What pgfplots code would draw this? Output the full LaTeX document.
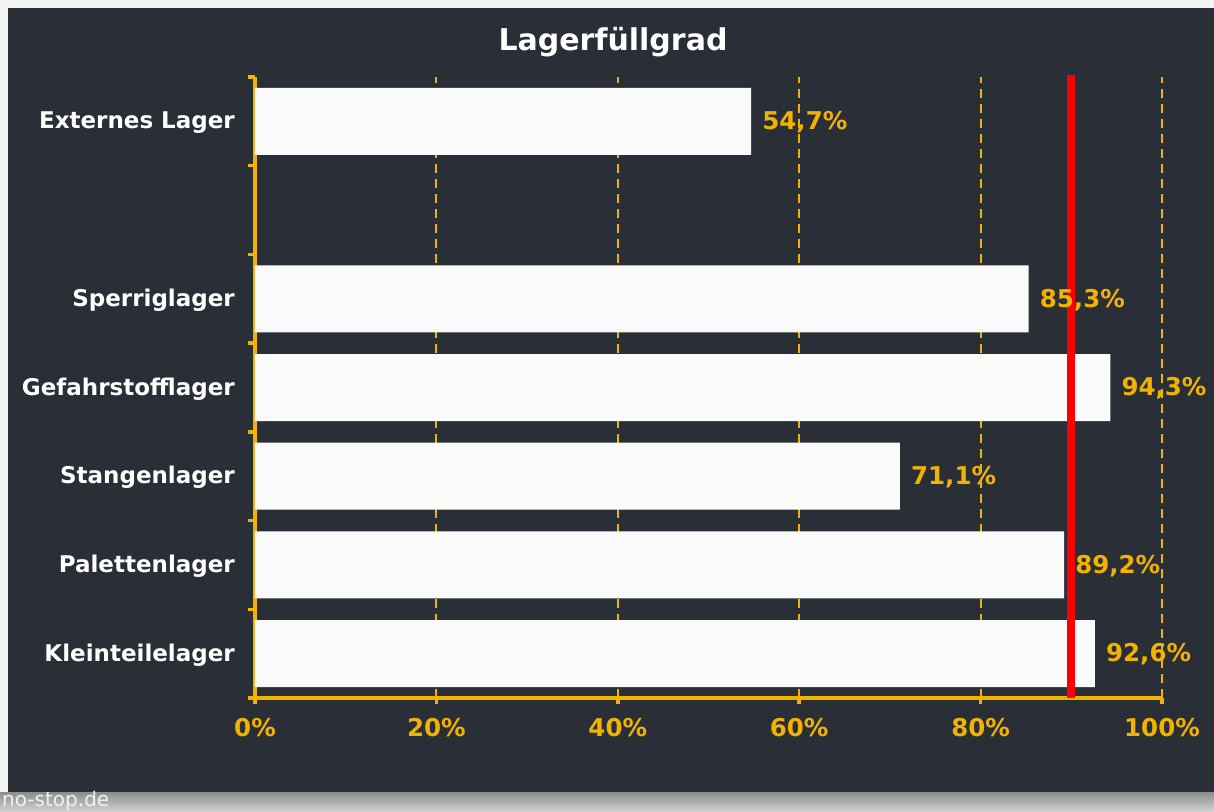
\documentclass[border=0pt]{standalone}
\usepackage{pgfplots}
\pgfplotsset{compat=1.18}
\usepackage{fontspec}
\setmainfont{DejaVu Sans}
\definecolor{bgdark}{RGB}{42,46,54}
\definecolor{bglight}{RGB}{244,244,244}
\definecolor{org}{RGB}{242,178,0}
\definecolor{barw}{RGB}{250,250,250}
\definecolor{redline}{RGB}{250,0,0}

\pgfplotstableread{
y val
1 92.6
2 89.2
3 71.1
4 94.3
5 85.3
7 54.7
}\datatable

\begin{document}
\begin{tikzpicture}[x=1pt,y=1pt]
\useasboundingbox (-255,-113) rectangle (959,698);
\fill[bglight] (-255,-113) rectangle (959,698);
\shade[top color=black!45, bottom color=black!18] (-255,-113) rectangle (959,-94);
\fill[bgdark] (-247,-94) rectangle (959,690);
\node[anchor=base west, inner sep=0pt, text=white!94!black, font=\fontsize{20}{20}\selectfont] at (-253,-108) {no-stop.de};
\node[anchor=base, inner sep=0pt, text=white, font=\fontsize{30}{30}\selectfont\bfseries] at (358,647) {Lagerfüllgrad};
\begin{axis}[
  at={(0,0)}, anchor=south west,
  scale only axis, width=907pt, height=621pt,
  xmin=0, xmax=100, ymin=0.5, ymax=7.5,
  clip=false,
  axis x line*=bottom, axis y line*=left,
  axis line style={org, line width=4pt, -},
  tick align=outside,
  xtick={0,20,40,60,80,100},
  xticklabel={\pgfmathprintnumber{\tick}\%},
  /pgf/number format/assume math mode=true,
  xticklabel style={text=org, font=\fontsize{24.5}{24.5}\selectfont\bfseries, inner sep=0pt, yshift=-14pt},
  ytick={1,2,3,4,5,7},
  yticklabels={Kleinteilelager,Palettenlager,Stangenlager,Gefahrstofflager,Sperriglager,Externes Lager},
  yticklabel style={text=white, font=\fontsize{23}{23}\selectfont\bfseries, inner sep=0pt, xshift=-14pt, yshift=-1.5pt},
  minor ytick={0.5,1.5,...,7.5},
  major tick length=6pt, minor tick length=7pt,
  every tick/.style={org, line width=3.5pt},
  x tick style={org, line width=3.5pt},
  major y tick style={draw=none},
  minor y tick style={org, line width=3.5pt},
  xmajorgrids,
  major x grid style={org, line width=2pt, dash pattern=on 9pt off 6pt},
]
\addplot[xbar, bar width=67pt, fill=barw, draw=none,
  point meta=x,
  nodes near coords={\pgfmathprintnumber[fixed,fixed zerofill,precision=1,use comma]{\pgfplotspointmeta}\%},
  every node near coord/.append style={anchor=west, inner sep=0pt, xshift=11pt, yshift=-1pt, text=org, font=\fontsize{24.5}{24.5}\selectfont\bfseries},
] table[x=val, y=y] {\datatable};
\addplot[sharp plot, redline, line width=8pt, mark=none] coordinates {(90,0.5) (90,7.52)};
\end{axis}
\end{tikzpicture}
\end{document}
